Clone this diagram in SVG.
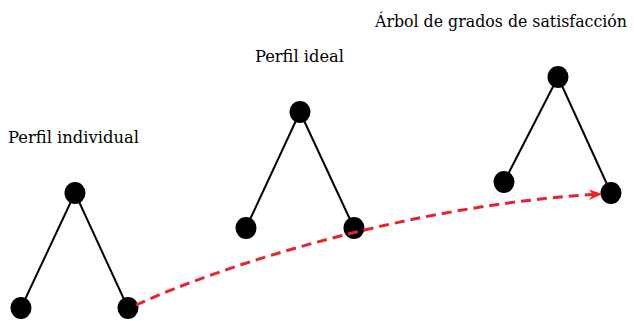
<svg xmlns="http://www.w3.org/2000/svg" width="634" height="321" viewBox="0 0 634 321">
<defs>
<style>
.node{fill:#000}
.edge{stroke:#000;stroke-width:2;fill:none}
.flow{stroke:#e8232f;stroke-width:3;fill:none;stroke-dasharray:10 6}
.lbl{font-family:"DejaVu Serif","Liberation Serif",serif;font-size:16px;fill:#000}
</style>
<marker id="ah" viewBox="0 0 10 10" refX="9" refY="5" markerWidth="4.5" markerHeight="4.5" orient="auto" markerUnits="strokeWidth">
<path d="M0,1 L10,5 L0,9 L3,5 Z" fill="#e8232f"/>
</marker>
</defs>
<rect width="634" height="321" fill="#fff"/>
<g id="connectors">
<line class="edge" x1="75" y1="193" x2="21" y2="308"/>
<line class="edge" x1="75" y1="193" x2="128" y2="308"/>
<line class="edge" x1="300" y1="112" x2="246" y2="228"/>
<line class="edge" x1="300" y1="112" x2="354" y2="228"/>
<line class="edge" x1="558" y1="77" x2="504" y2="182"/>
<line class="edge" x1="558" y1="77" x2="611" y2="193"/>
</g>
<g id="tree1">
<text class="lbl" x="8" y="143" textLength="131" lengthAdjust="spacingAndGlyphs">Perfil individual</text>
<ellipse class="node" cx="75" cy="193" rx="10.5" ry="11"/>
<ellipse class="node" cx="21" cy="308" rx="10.5" ry="11"/>
<ellipse class="node" cx="128" cy="308" rx="10.5" ry="11"/>
</g>
<g id="tree2">
<text class="lbl" x="255" y="62" textLength="89" lengthAdjust="spacingAndGlyphs">Perfil ideal</text>
<ellipse class="node" cx="300" cy="112" rx="10.5" ry="11"/>
<ellipse class="node" cx="246" cy="228" rx="10.5" ry="11"/>
<ellipse class="node" cx="354" cy="228" rx="10.5" ry="11"/>
</g>
<g id="tree3">
<text class="lbl" x="375" y="27" textLength="252" lengthAdjust="spacingAndGlyphs">Árbol de grados de satisfacción</text>
<ellipse class="node" cx="558" cy="77" rx="10.5" ry="11"/>
<ellipse class="node" cx="504" cy="182" rx="10.5" ry="11"/>
<ellipse class="node" cx="611" cy="193" rx="10.5" ry="11"/>
</g>
<g id="flow">
<path class="flow" d="M136,305 C230,262 420,204 601,194" marker-end="url(#ah)"/>
</g>
</svg>
